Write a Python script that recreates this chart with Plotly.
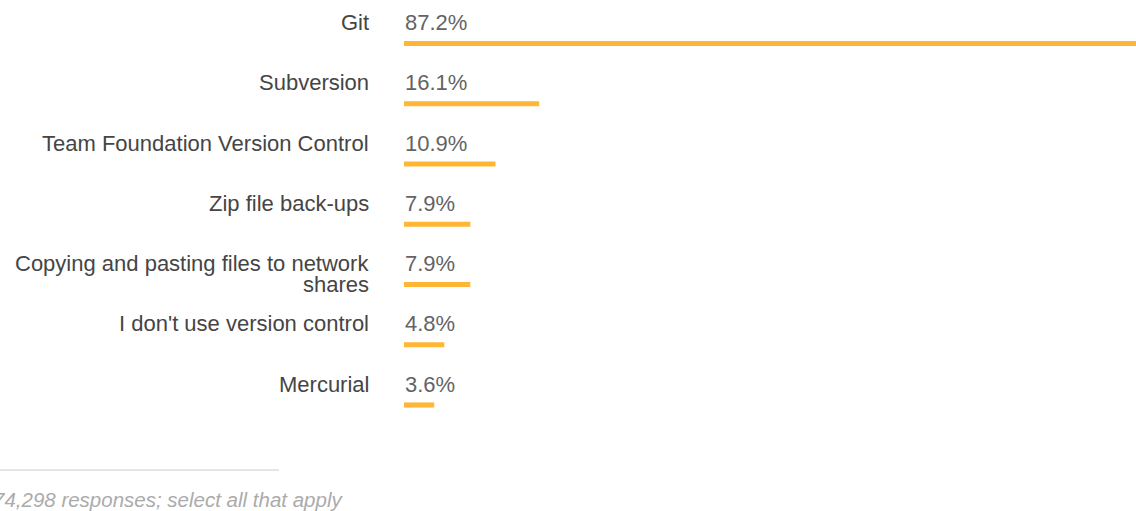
import plotly.graph_objects as go

categories = [
    "Git",
    "Subversion",
    "Team Foundation Version Control",
    "Zip file back-ups",
    "Copying and pasting files to network<br>shares",
    "I don't use version control",
    "Mercurial",
]
values = [87.2, 16.1, 10.9, 7.9, 7.9, 4.8, 3.6]
value_labels = ["87.2%", "16.1%", "10.9%", "7.9%", "7.9%", "4.8%", "3.6%"]
footer_text = "74,298 responses; select all that apply"

W, H = 1136, 511
idx = list(range(len(categories)))

fig = go.Figure()
fig.add_trace(go.Bar(
    x=values,
    y=idx,
    orientation="h",
    width=0.085,
    marker=dict(color="#ffb634", line=dict(width=0)),
    hoverinfo="skip",
))

FONT = "Arial, 'Liberation Sans', sans-serif"
SIZE = 22
annotations = []
for i, (c, lab) in enumerate(zip(categories, value_labels)):
    for k, line in enumerate(c.split("<br>")):
        annotations.append(dict(
            x=371 / W, xref="paper", y=i, yref="y",
            text=line, showarrow=False, xanchor="right", yanchor="middle",
            align="right", yshift=21 - 21 * k,
            font=dict(family=FONT, size=SIZE, color="#454545"),
        ))
    annotations.append(dict(
        x=0, xref="x", y=i, yref="y",
        text=lab, showarrow=False, xanchor="left", yanchor="middle",
        align="left", yshift=21, xshift=-1,
        font=dict(family=FONT, size=SIZE, color="#646464"),
    ))

annotations.append(dict(
    x=-9 / W, xref="paper", y=1 - 499 / H, yref="paper",
    text="<i>" + footer_text + "</i>", showarrow=False,
    xanchor="left", yanchor="middle",
    font=dict(family=FONT, size=20.5, color="#ababab"),
))

fig.update_layout(
    width=W, height=H,
    margin=dict(l=0, r=0, t=0, b=0),
    paper_bgcolor="white", plot_bgcolor="white",
    showlegend=False,
    xaxis=dict(domain=[404 / W, 1], range=[0, 87.2], visible=False, fixedrange=True),
    yaxis=dict(domain=[0, 1], range=[(H - 43.5) / 60.25, -43.5 / 60.25],
               visible=False, fixedrange=True),
    annotations=annotations,
    shapes=[dict(type="line", xref="paper", yref="paper",
                 x0=0, x1=279 / W, y0=1 - 470 / H, y1=1 - 470 / H,
                 line=dict(color="#dddddd", width=1.5))],
)

fig.write_html("out.html")
